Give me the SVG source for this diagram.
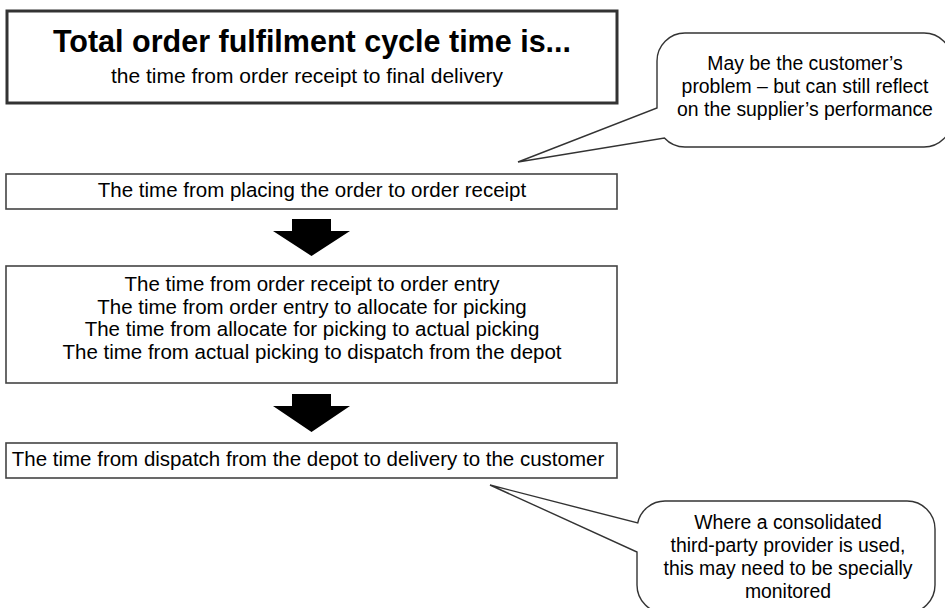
<svg xmlns="http://www.w3.org/2000/svg" width="945" height="608" viewBox="0 0 945 608">
  <style>
    text { font-family: "Liberation Sans", Arial, sans-serif; fill: #000; text-anchor: middle; }
    .box { fill: #fff; stroke: #444; stroke-width: 1.6; }
    .main { fill: #fff; stroke: #333; stroke-width: 3; }
    .callout { fill: #fff; stroke: #333; stroke-width: 1.4; }
    .body { font-size: 20.5px; }
    .note { font-size: 19.4px; }
    .arrow { fill: #000; stroke: none; }
  </style>
  <rect width="945" height="608" fill="#fff"/>

  <g id="title">
    <rect class="main" x="7" y="11" width="610" height="92"/>
    <text x="312" y="52" style="font-size:30.5px;font-weight:bold">Total order fulfilment cycle time is...</text>
    <text x="307" y="83" style="font-size:21px">the time from order receipt to final delivery</text>
  </g>

  <g id="callout1">
    <path class="callout" d="M 685,33 H 924 A 28 28 0 0 1 952 61 V 119 A 28 28 0 0 1 924 147 H 685 A 28 28 0 0 1 664.4 138 L 518,162 L 657,108 V 61 A 28 28 0 0 1 685 33 Z"/>
    <text class="note" x="805" y="70">May be the customer’s</text>
    <text class="note" x="805" y="93">problem – but can still reflect</text>
    <text class="note" x="805" y="116">on the supplier’s performance</text>
  </g>

  <g id="step1">
    <rect class="box" x="6" y="174" width="611" height="35"/>
    <text class="body" x="312" y="197">The time from placing the order to order receipt</text>
  </g>

  <g id="step2">
    <rect class="box" x="6" y="266" width="611" height="117"/>
    <text class="body" x="312" y="291">The time from order receipt to order entry</text>
    <text class="body" x="312" y="313.5">The time from order entry to allocate for picking</text>
    <text class="body" x="312" y="336">The time from allocate for picking to actual picking</text>
    <text class="body" x="312" y="358.5">The time from actual picking to dispatch from the depot</text>
  </g>

  <g id="step3">
    <rect class="box" x="6" y="443" width="611" height="35"/>
    <text class="body" x="308" y="466">The time from dispatch from the depot to delivery to the customer</text>
  </g>

  <g id="callout2">
    <path class="callout" d="M 665,501 H 907 A 28 28 0 0 1 935 529 V 585 A 28 28 0 0 1 907 613 H 665 A 28 28 0 0 1 637 585 V 552 L 490,485 L 637.7,523 A 28 28 0 0 1 665 501 Z"/>
    <text class="note" x="788" y="529">Where a consolidated</text>
    <text class="note" x="788" y="552">third-party provider is used,</text>
    <text class="note" x="788" y="575">this may need to be specially</text>
    <text class="note" x="788" y="598">monitored</text>
  </g>

  <g id="connectors">
    <polygon class="arrow" points="292,219 331,219 331,231 350,231 311.5,256 273,231 292,231"/>
    <polygon class="arrow" points="292,394 331,394 331,406 350,406 311.5,432 273,406 292,406"/>
  </g>
</svg>
